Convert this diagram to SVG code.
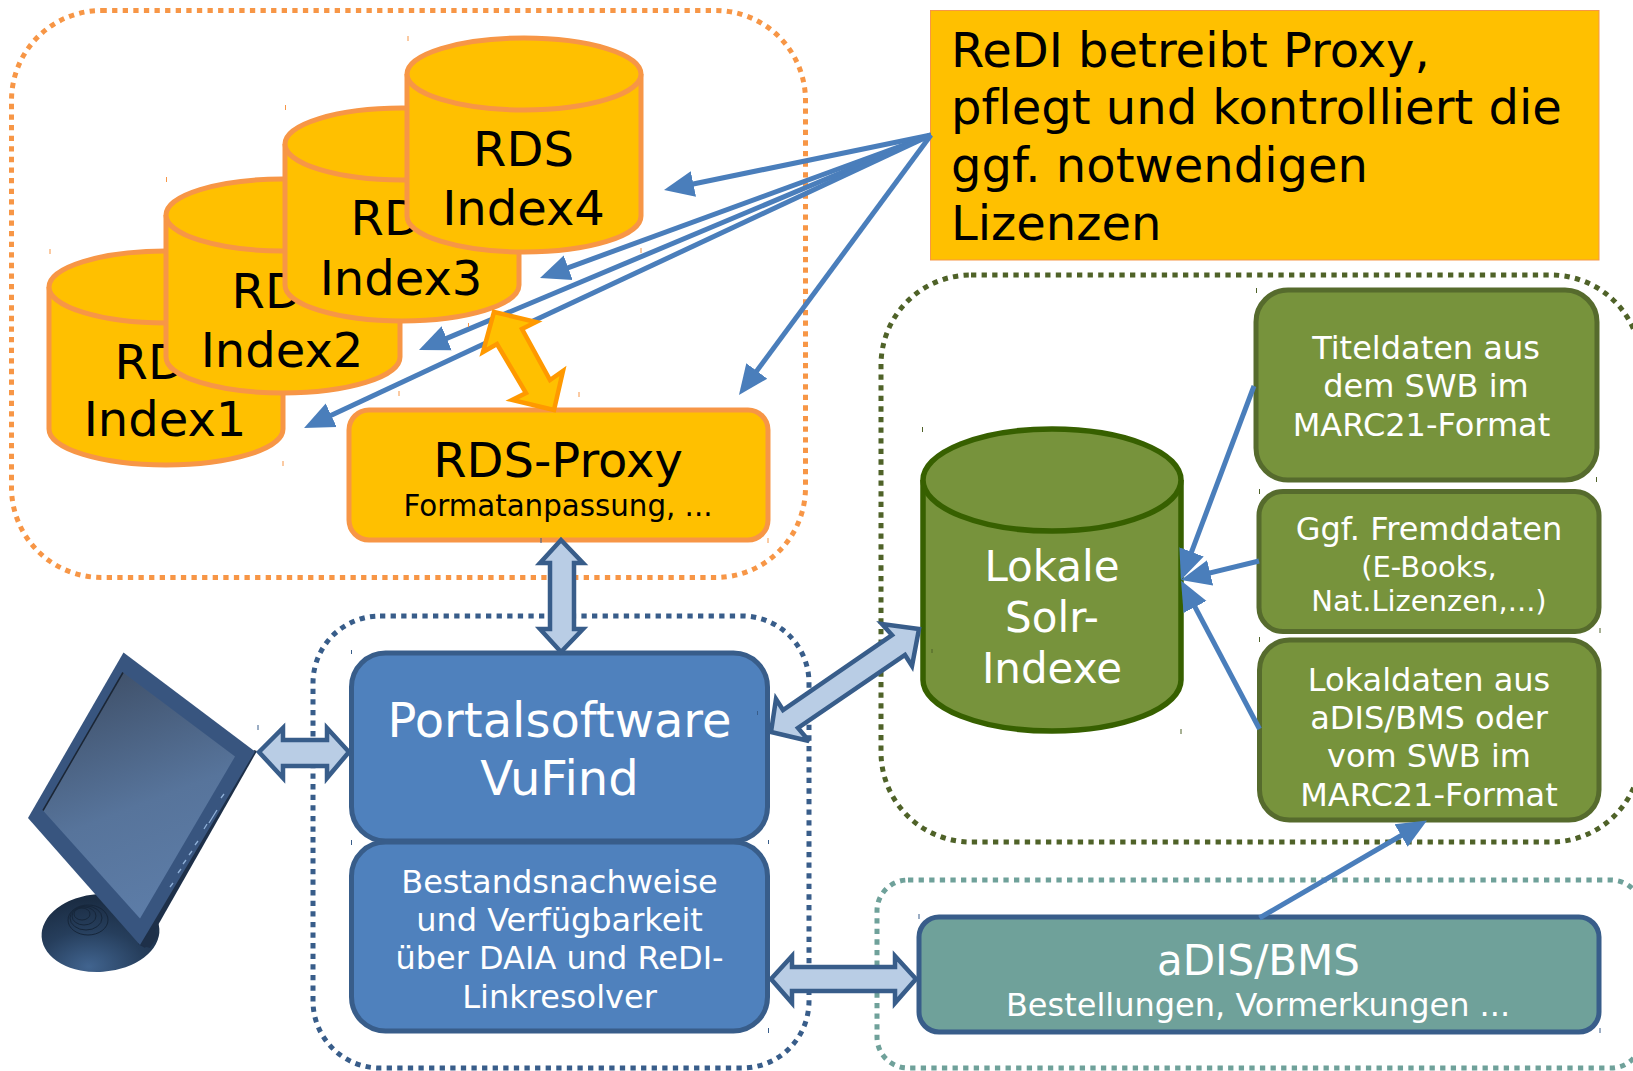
<svg xmlns="http://www.w3.org/2000/svg" width="1633" height="1071" viewBox="0 0 1633 1071">
<style>
text{font-family:"DejaVu Sans","Liberation Sans",sans-serif;text-anchor:middle;font-variant-ligatures:none}
.b{fill:#000}.w{fill:#fff}
.s48{font-size:48px}.s42{font-size:42px}.s32{font-size:32px}.s29{font-size:29px}.s29b{font-size:29.3px}
.st{text-anchor:start}
.grp{fill:none;stroke-width:5;stroke-dasharray:5.3 5.3}
.cy{fill:#FFC000;stroke:#F79646;stroke-width:5}
.gbox{fill:#77933C;stroke:#566B2D;stroke-width:5}
.bbox{fill:#4F81BD;stroke:#385D8A;stroke-width:5}
.conn{fill:none;stroke:#4A7EBB;stroke-width:5;marker-end:url(#ah)}
.dbl{fill:#B9CDE5;stroke:#385D8A;stroke-width:4.5;stroke-miterlimit:3}
.tick{fill:none;stroke-width:1}
</style>
<defs>
<marker id="ah" markerUnits="userSpaceOnUse" markerWidth="32" markerHeight="28" refX="20" refY="14" orient="auto"><path d="M0 1L30 14L0 27z" fill="#4A7EBB"/></marker>
<linearGradient id="scr" x1="0.3" y1="0" x2="0.6" y2="1"><stop offset="0" stop-color="#3f5069"/><stop offset="0.55" stop-color="#57749b"/><stop offset="1" stop-color="#5d7da8"/></linearGradient>
<radialGradient id="bs" cx="0.38" cy="0.92" r="0.85"><stop offset="0" stop-color="#41648f"/><stop offset="0.55" stop-color="#263e5c"/><stop offset="1" stop-color="#1b2d44"/></radialGradient>
</defs>

<g id="group-rds"><rect class="grp" x="11.5" y="10.5" width="794" height="567" rx="90" ry="90" stroke="#F79646"/></g>
<g id="group-local"><rect class="grp" x="881" y="275" width="760" height="567" rx="90" ry="90" stroke="#4F6228"/></g>
<g id="group-adis"><rect class="grp" x="877" y="880" width="765" height="188" rx="31" ry="31" stroke="#6FA19A"/></g>
<g id="group-portal"><rect class="grp" x="313" y="616" width="496" height="452" rx="67" ry="67" stroke="#385D8A"/></g>

<g id="monitor">
<ellipse cx="100.500" cy="933" rx="59" ry="39" fill="url(#bs)" transform="rotate(-4 100 933)"/>
<g fill="none" stroke="#16263a" stroke-width="1">
<ellipse cx="88" cy="920" rx="20" ry="15"/><ellipse cx="86" cy="918" rx="16" ry="12"/><ellipse cx="84" cy="916" rx="12" ry="9"/><ellipse cx="82" cy="914" rx="8" ry="6"/>
</g>
<polygon points="257,751 145,948 138,944 254,750" fill="#1e3049"/>
<polygon points="153,927 158,936 150,948 140,945" fill="#1e3049"/>
<polygon points="123.500,652.500 255,751.500 140,945 28,818" fill="#38557f"/>
<polygon points="123,672.500 235,756.500 140,918.500 43,810.500" fill="url(#scr)"/>
<path d="M123 672.500L43 810.500" stroke="#1b2635" stroke-width="1.500" fill="none"/>
<g stroke="#8fb0d8" stroke-width="1.300" fill="none"><path d="M221 798l3 -4M204 829l3 -5M195 845l3 -4M189 855l3 -4M183 864l3 -4M178 873l3 -4M170 887l3 -4M209 823l8 -13"/></g>
</g>

<g id="index1"><path class="cy" d="M49 287V429A117 36 0 0 0 283 429V287"/><ellipse class="cy" cx="166" cy="287" rx="117" ry="36"/><text class="b s48" x="165" y="379">RDS</text><text class="b s48" x="165" y="436">Index1</text></g>
<g id="index2"><path class="cy" d="M166 215V357A117 36 0 0 0 400 357V215"/><ellipse class="cy" cx="283" cy="215" rx="117" ry="36"/><text class="b s48" x="282" y="308">RDS</text><text class="b s48" x="282" y="366.500">Index2</text></g>
<g id="index3"><path class="cy" d="M285 144V285A117 36 0 0 0 519 285V144"/><ellipse class="cy" cx="402" cy="144" rx="117" ry="36"/><text class="b s48" x="401" y="235">RDS</text><text class="b s48" x="401" y="294.500">Index3</text></g>
<g id="index4"><path class="cy" d="M407 74V216A117 36 0 0 0 641 216V74"/><ellipse class="cy" cx="524" cy="74" rx="117" ry="36"/><text class="b s48" x="523.500" y="166">RDS</text><text class="b s48" x="523.500" y="224.500">Index4</text></g>

<g id="rds-proxy"><rect class="cy" x="349" y="410" width="419" height="130" rx="20" ry="20"/><text class="b s48" x="558" y="477">RDS-Proxy</text><text class="b s29b" x="558" y="516">Formatanpassung, ...</text></g>

<g id="redi-note"><rect x="930.500" y="10.500" width="668.500" height="249.500" fill="#FFC000" stroke="#F79646" stroke-width="1"/>
<text class="b s48 st" x="951" y="67">ReDI betreibt Proxy,</text><text class="b s48 st" x="951" y="124">pflegt und kontrolliert die</text><text class="b s48 st" x="951" y="182">ggf. notwendigen</text><text class="b s48 st" x="951" y="240">Lizenzen</text></g>

<g id="lokale-indexe"><path d="M923 480V680A129 51 0 0 0 1181 680V480" fill="#77933C" stroke="#376000" stroke-width="5.500"/><ellipse cx="1052" cy="480" rx="129" ry="51" fill="#77933C" stroke="#376000" stroke-width="5.500"/><text class="w s42" x="1052" y="581">Lokale</text><text class="w s42" x="1052" y="632">Solr-</text><text class="w s42" x="1052" y="683">Indexe</text></g>

<g id="titeldaten"><rect class="gbox" x="1256" y="290" width="341" height="190" rx="32" ry="32"/><text class="w s32" x="1426" y="358.500">Titeldaten aus</text><text class="w s32" x="1426" y="397">dem SWB im</text><text class="w s32" x="1421.500" y="435.500">MARC21-Format</text></g>
<g id="fremddaten"><rect class="gbox" x="1259" y="491.500" width="340" height="140" rx="24" ry="24"/><text class="w s32" x="1429" y="540">Ggf. Fremddaten</text><text class="w s29" x="1429" y="576.500">(E-Books,</text><text class="w s29" x="1429" y="611">Nat.Lizenzen,...)</text></g>
<g id="lokaldaten"><rect class="gbox" x="1259.500" y="640" width="339.500" height="180" rx="30" ry="30"/><text class="w s32" x="1429" y="690.500">Lokaldaten aus</text><text class="w s32" x="1429" y="729">aDIS/BMS oder</text><text class="w s32" x="1429" y="766.500">vom SWB im</text><text class="w s32" x="1429" y="805.500">MARC21-Format</text></g>

<g id="portal"><rect class="bbox" x="351.500" y="653" width="416" height="188" rx="34" ry="34"/><text class="w s48" x="559.500" y="737">Portalsoftware</text><text class="w s48" x="559.500" y="795">VuFind</text></g>
<g id="bestand"><rect class="bbox" x="351.500" y="842" width="416" height="189" rx="34" ry="34"/><text class="w s32" x="559.500" y="892.500">Bestandsnachweise</text><text class="w s32" x="559.500" y="931">und Verfügbarkeit</text><text class="w s32" x="559.500" y="969">über DAIA und ReDI-</text><text class="w s32" x="559.500" y="1007.500">Linkresolver</text></g>

<g id="adis"><rect x="919" y="917" width="680" height="115" rx="20" ry="20" fill="#6FA19A" stroke="#385D8A" stroke-width="5"/><text class="w s42" x="1258.500" y="974.500">aDIS/BMS</text><text class="w s32" x="1258" y="1015.500">Bestellungen, Vormerkungen ...</text></g>

<g id="connectors">
<path class="conn" d="M931 135L673.800 188"/>
<path class="conn" d="M931 135L549.400 274.600"/>
<path class="conn" d="M931 135L428.200 346.100"/>
<path class="conn" d="M931 135L313.100 423.800"/>
<path class="conn" d="M931 135L744.900 387"/>
<path class="conn" d="M1254 386L1184.500 570.600"/>
<path class="conn" d="M1259 561L1190.700 577.600"/>
<path class="conn" d="M1259.500 729L1185.700 589.300"/>
<path class="conn" d="M1259.500 918L1418.400 825.500"/>
<polygon points="494,312 536,322 522,329 550,380 563,371 554,410 512,400 526,393 497,344 483,352" fill="#FFC000" stroke="#FF9900" stroke-width="4.500" stroke-miterlimit="3"/>
<polygon class="dbl" points="561,540 583,563 574,563 574,629 583,629 561,652 540,629 550,629 550,563 540,563"/>
<polygon class="dbl" points="259,752 283,728 283,740 327,740 327,728 349,752 327,778 327,766 283,766 283,778"/>
<polygon class="dbl" points="771,979 792,956 792,967 895,967 895,956 916,979 895,1003 895,991 792,991 792,1003"/>
<polygon class="dbl" points="919,629 882,624 892,635 783,710 776,699 771,732 809,741 798,728 905,655 912,666"/>
</g>

<g id="corner-marks">
<path class="tick" stroke="#F79646" d="M408 36v5M285.500 105v5M166.500 177v5M50 249v5M641 248v5M399 391v5M283 461v5M579 392v5M768 538v5M468.500 323v4"/>
<path class="tick" stroke="#385D8A" d="M541 538v5M351.500 650v4M351.500 840v5M258 725v5M768.500 840v4M768.500 1028v5M757.500 711v4M919 914v5M1600 1028v5"/>
<path class="tick" stroke="#4F6228" d="M1256.500 288v5M922.500 427v5M1596.500 477v5M1259.500 489v5M1181 729v5M932 649v4M1600 628v5M1259.500 637v5"/>
</g>
</svg>
